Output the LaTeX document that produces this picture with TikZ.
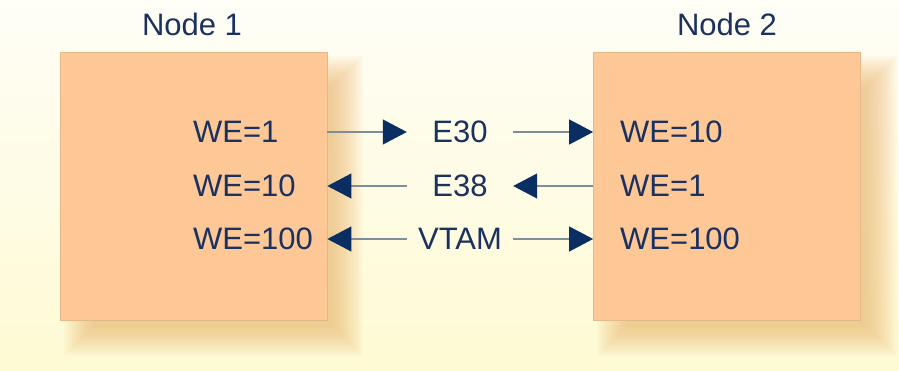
\documentclass[tikz,border=0pt]{standalone}
\usepackage{fontspec}
\setmainfont{Liberation Sans}
\usetikzlibrary{arrows.meta}
\definecolor{bgtop}{HTML}{FFFEF7}
\definecolor{bgbot}{HTML}{FDFAD3}
\definecolor{boxfill}{HTML}{FDC896}
\definecolor{boxline}{HTML}{E3B98A}
\definecolor{ink}{HTML}{1B3160}
\definecolor{tipcol}{HTML}{0A2E62}
\definecolor{linecol}{HTML}{7F8C99}
\definecolor{shadowcol}{HTML}{EDB870}
\begin{document}
\begin{tikzpicture}[x=1pt,y=-1pt,
  every node/.style={font=\fontsize{31}{37}\selectfont, text=ink, inner sep=0pt},
  nodebox/.style={draw=boxline, line width=0.8pt, fill=boxfill, minimum width=267pt, minimum height=268pt},
  lbl/.style={anchor=west},
  mid/.style={minimum width=106pt},
  conn/.style={draw=linecol, line width=1.1pt, -{Triangle[length=24pt,width=25pt,color=tipcol,fill=tipcol]}}]
\useasboundingbox (0,0) rectangle (899,371);
\shade[top color=bgtop, bottom color=bgbot] (0,0) rectangle (899,371);
% soft shadows
\foreach \e in {16,14,...,-14} {
  \fill[shadowcol, opacity=0.06] ({80-\e},{72-\e}) rectangle ({347+\e},{340+\e});
  \fill[shadowcol, opacity=0.06] ({613-\e},{72-\e}) rectangle ({881+\e},{340+\e});
}
\node[nodebox] (b1) at (193.5,186) {};
\node[nodebox] (b2) at (727,186) {};
\node (t1) at (192,24) {Node 1};
\node (t2) at (727,24) {Node 2};
\node[lbl] (l1) at (193,132) {WE=1};
\node[lbl] (l2) at (193,186) {WE=10};
\node[lbl] (l3) at (193,239) {WE=100};
\node[lbl] (r1) at (620,132) {WE=10};
\node[lbl] (r2) at (620,186) {WE=1};
\node[lbl] (r3) at (620,239) {WE=100};
\node[mid] (m1) at (460,132) {E30};
\node[mid] (m2) at (460,186) {E38};
\node[mid] (m3) at (460,239) {VTAM};
\draw[conn] (b1.east |- m1) -- (m1.west);
\draw[conn] (m1.east) -- (b2.west |- m1);
\draw[conn] (m2.west) -- (b1.east |- m2);
\draw[conn] (b2.west |- m2) -- (m2.east);
\draw[conn] (m3.west) -- (b1.east |- m3);
\draw[conn] (m3.east) -- (b2.west |- m3);
\end{tikzpicture}
\end{document}
